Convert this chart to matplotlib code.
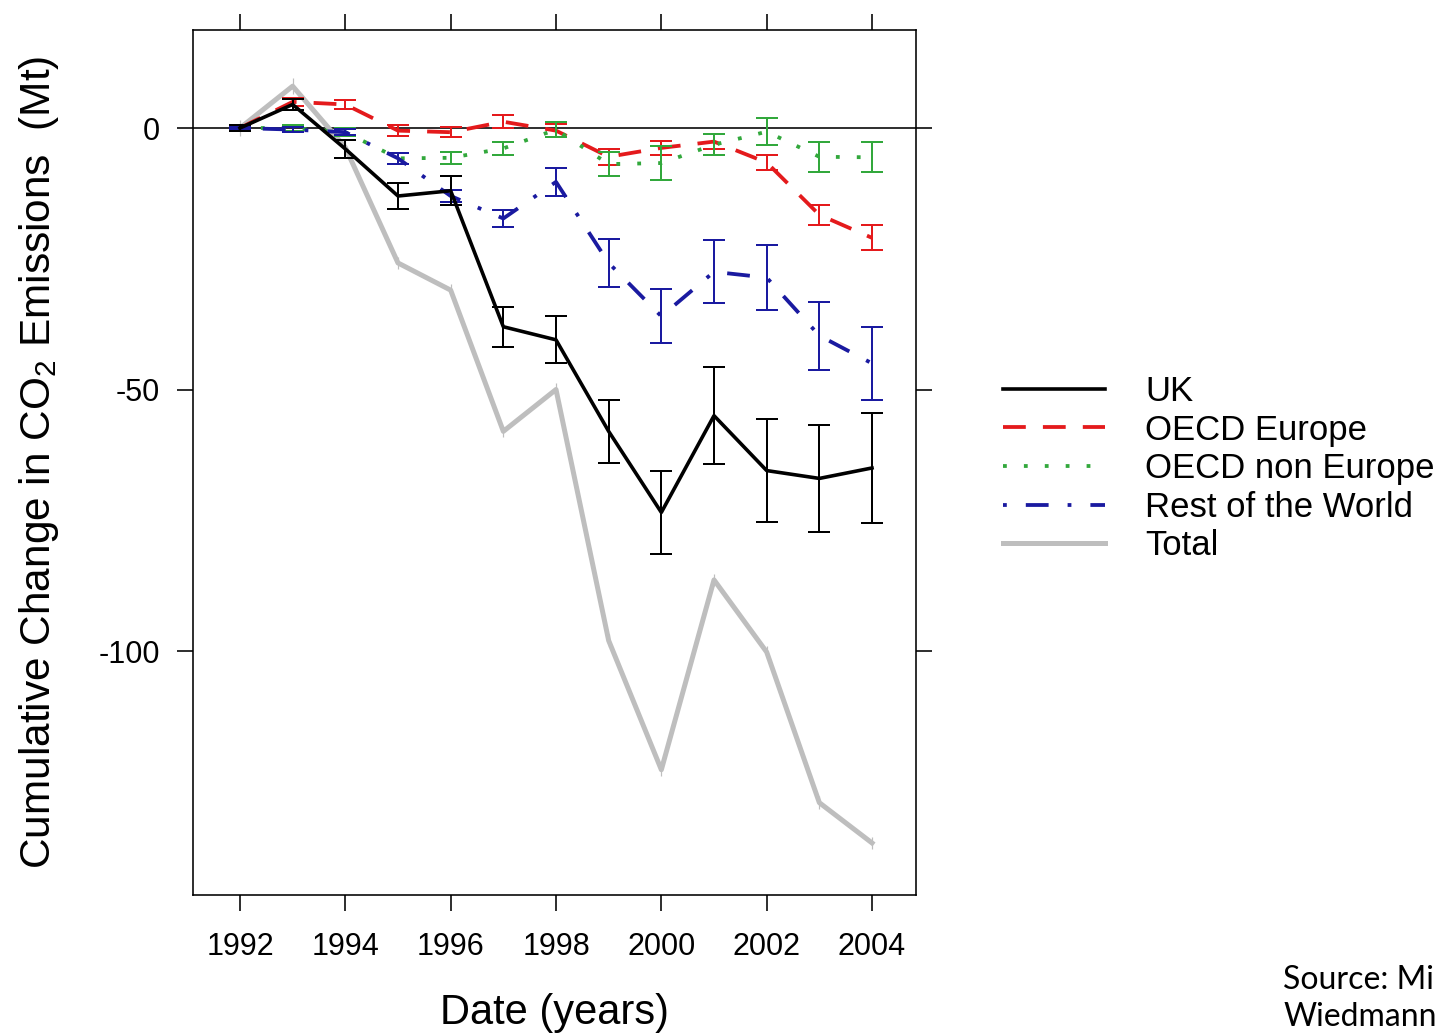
import matplotlib
matplotlib.use("Agg")
import matplotlib.pyplot as plt

plt.rcParams['font.family'] = ['Liberation Sans', 'DejaVu Sans']
plt.rcParams['mathtext.fontset'] = 'custom'
plt.rcParams['mathtext.rm'] = 'Liberation Sans'
plt.rcParams['axes.unicode_minus'] = False

years = [1992, 1993, 1994, 1995, 1996, 1997, 1998, 1999, 2000, 2001, 2002, 2003, 2004]

uk = [0, 4.5, -4, -13, -12, -38, -40.5, -58, -73.5, -55, -65.5, -67, -65]
uk_err = [0.5, 1, 1.8, 2.5, 2.8, 3.8, 4.5, 6, 8, 9.3, 9.8, 10.2, 10.5]

oecd_eu = [0, 5, 4.5, -0.5, -0.8, 1.2, -0.5, -5.5, -3.8, -2.6, -6.6, -16.6, -21]
oecd_eu_err = [0.3, 0.8, 0.8, 1, 1, 1.2, 1.2, 1.5, 1.3, 1.5, 1.4, 1.9, 2.4]

oecd_non = [0, 0, -0.8, -5.8, -5.7, -3.9, -0.3, -6.9, -6.7, -3.2, -0.7, -5.5, -5.6]
oecd_non_err = [0.3, 0.5, 0.8, 1, 1.2, 1.2, 1.4, 2.3, 3.2, 2, 2.6, 2.9, 2.9]

row = [0, -0.3, -0.8, -5.8, -13, -17.3, -10.3, -25.8, -36, -27.5, -28.6, -39.7, -45]
row_err = [0.2, 0.4, 0.6, 1, 1.2, 1.6, 2.7, 4.6, 5.2, 6, 6.2, 6.5, 7]

total = [0, 8, -3.7, -25.8, -31, -58, -50, -98, -122.7, -86.4, -100.2, -129, -136.7]
total_err = [1.5, 1.5, 1.2, 1.2, 1.1, 1.1, 1.2, 1.2, 1.2, 1.2, 1.2, 1.2, 1.2]

labels = ["UK", "OECD Europe", "OECD non Europe", "Rest of the World", "Total"]

W, H = 1441, 1034
fig = plt.figure(figsize=(W / 100, H / 100), dpi=100)
ax = fig.add_axes([193 / W, 1 - 895 / H, (916 - 193) / W, (895 - 30) / H])

px = 0.72  # points per pixel

# Total (grey)
ax.errorbar(years, total, yerr=total_err, fmt='none', ecolor='#bebebe',
            elinewidth=1.2 * px, capsize=0, zorder=1)
l_total, = ax.plot(years, total, color='#bebebe', lw=5 * px, zorder=1)

# UK
ax.errorbar(years, uk, yerr=uk_err, fmt='none', ecolor='black',
            elinewidth=2 * px, capsize=11 * px, capthick=2 * px, zorder=3)
l_uk, = ax.plot(years, uk, color='black', lw=3.6 * px, zorder=3)

# OECD Europe
red = '#e41a1c'
ax.errorbar(years, oecd_eu, yerr=oecd_eu_err, fmt='none', ecolor=red,
            elinewidth=2 * px, capsize=11 * px, capthick=2 * px, zorder=2)
l_eu, = ax.plot(years, oecd_eu, color=red, lw=3.8 * px, ls=(0, (6, 4.5)), zorder=2)

# OECD non Europe
green = '#32a83c'
ax.errorbar(years, oecd_non, yerr=oecd_non_err, fmt='none', ecolor=green,
            elinewidth=2 * px, capsize=11 * px, capthick=2 * px, zorder=2)
l_non, = ax.plot(years, oecd_non, color=green, lw=3.8 * px, ls=(0, (1, 4.5)), zorder=2)

# Rest of the World
blue = '#1a1aa0'
ax.errorbar(years, row, yerr=row_err, fmt='none', ecolor=blue,
            elinewidth=2 * px, capsize=11 * px, capthick=2 * px, zorder=2)
l_row, = ax.plot(years, row, color=blue, lw=3.8 * px, ls=(0, (1, 5, 6, 5)), zorder=2)

ax.axhline(0, color='black', lw=1.6 * px, zorder=0)

ax.set_xlim(1991.108, 2004.835)
ax.set_ylim(-146.65, 18.74)
ax.set_xticks(range(1992, 2005, 2))
ax.set_yticks([0, -50, -100])

for s in ax.spines.values():
    s.set_linewidth(1.6 * px)

ax.tick_params(axis='both', direction='out', length=16 * px, width=1.6 * px,
               labelsize=22, top=True, right=True, labeltop=False, labelright=False)
ax.tick_params(axis='x', pad=15)
ax.tick_params(axis='y', pad=12)

ax.set_xlabel("Date (years)", fontsize=30)
ax.xaxis.set_label_coords(0.5, -0.113)
ax.set_ylabel("Cumulative Change in CO$_2$ Emissions  (Mt)", fontsize=30.5)
ax.yaxis.set_label_coords(-0.183, 0.5)

fig.legend([l_uk, l_eu, l_non, l_row, l_total], labels,
           loc='upper left', bbox_to_anchor=(1003 / W, 1 - 375 / H),
           frameon=False, fontsize=25, handlelength=2.95, handletextpad=1.15,
           labelspacing=0.16, borderpad=0, borderaxespad=0)

fig.text(1283 / W, 1 - 1032 / H, "Source: Mi\nWiedmann",
         fontsize=23, family=['Lato', 'DejaVu Sans'], va='bottom', ha='left',
         linespacing=1.3)

fig.savefig("out.png", dpi=100)
